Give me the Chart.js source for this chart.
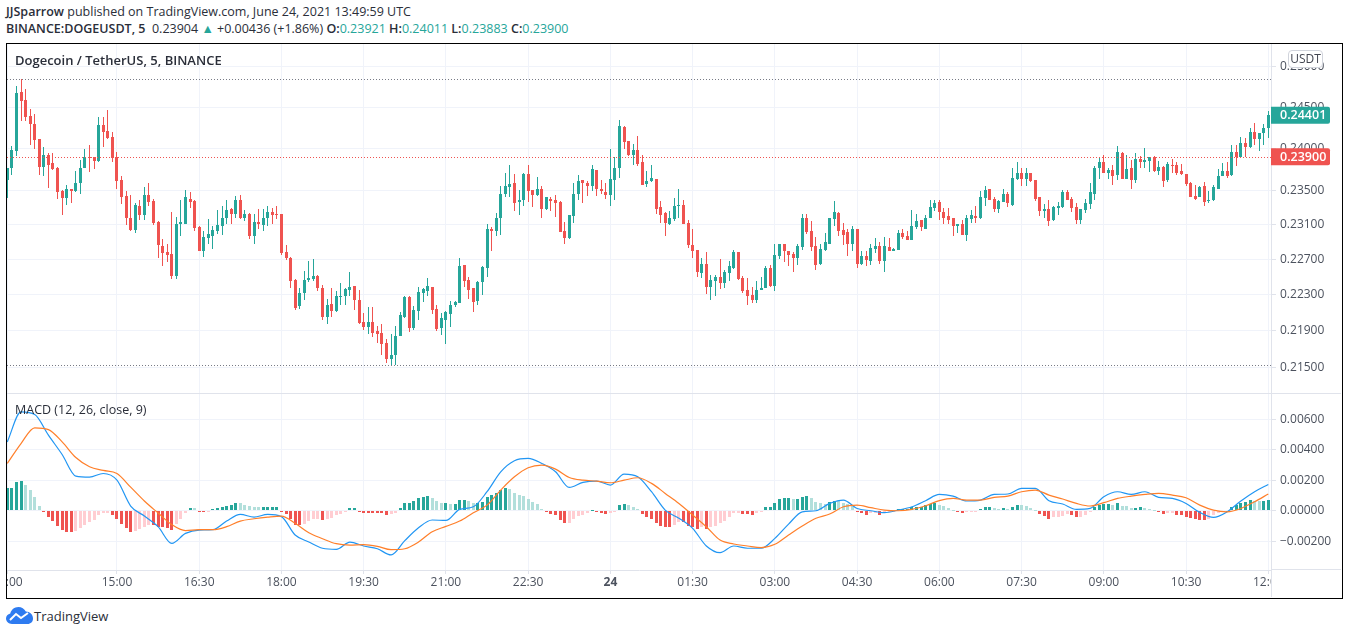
<!DOCTYPE html>
<html>
<head>
<meta charset="utf-8">
<title>DOGEUSDT</title>
<script src="https://cdn.jsdelivr.net/npm/chart.js@4/dist/chart.umd.min.js"></script>
<style>
  html, body { margin: 0; padding: 0; background: #fff; overflow: hidden; }
  body { width: 1348px; height: 634px; position: relative; font-family: "Open Sans", sans-serif; color: #2a2e39; }
  canvas { position: absolute; left: 7px; }
  #priceChart { top: 44px; }
  #macdChart { top: 394px; }
  .txt { position: absolute; white-space: nowrap; line-height: 16px; font-size: 12.5px; }
  .txt b { font-weight: 600; color: #2a2e39; }
  .up { color: #26a69a; }
  #frame { position: absolute; left: 6px; top: 43px; width: 1335px; height: 554px; border: 1px solid #000; pointer-events: none; }
  #paneLine { position: absolute; left: 7px; top: 393px; width: 1334px; height: 1px; background: #e0e3eb; }
  #axisCorner { position: absolute; left: 1271px; top: 569px; width: 70px; height: 28px; background: #fff; border-left: 1px solid #e0e3eb; border-top: 1px solid #e0e3eb; box-sizing: border-box; }
  #unit { position: absolute; left: 1288px; top: 50px; width: 35px; height: 18px; box-sizing: border-box; background: #fff; border: 1px solid #d1d4dc; border-radius: 4px; font-size: 12px; line-height: 16px; text-align: center; color: #434651; }
</style>
</head>
<body>
<div class="txt" style="left:6px;top:4px"><b>JJSparrow</b> published on TradingView.com, June 24, 2021 13:49:59 UTC</div>
<div class="txt" style="left:6px;top:21px"><b>BINANCE:DOGEUSDT, 5</b>&nbsp; 0.23904 <span class="up">▲</span> +0.00436 (+1.86%) <b>O:</b><span class="up">0.23921</span> <b>H:</b><span class="up">0.24011</span> <b>L:</b><span class="up">0.23883</span> <b>C:</b><span class="up">0.23900</span></div>
<canvas id="priceChart" width="1334" height="350"></canvas>
<canvas id="macdChart" width="1334" height="204"></canvas>
<div id="paneLine"></div>
<div id="axisCorner"></div>
<div id="unit">USDT</div>
<div class="txt" style="left:15px;top:52px;font-size:13px;font-weight:600">Dogecoin / TetherUS, 5, BINANCE</div>
<div class="txt" style="left:15px;top:402px">MACD (12, 26, close, 9)</div>
<div id="frame"></div>
<svg style="position:absolute;left:6px;top:607px" width="27" height="18" viewBox="0 0 27 18">
  <path d="M6 17C2.5 17 0 14.6 0 11.6 0 9 1.8 6.9 4.3 6.4 5.2 2.8 8.4 0 12.4 0c3.200 0 6 1.800 7.400 4.500C23.800 4.600 27 7.600 27 11.500 27 14.700 24.800 17 21.500 17Z" fill="#2e7bf0"/>
  <path d="M4 13 L10 7 L15 11 L22 6" fill="none" stroke="#fff" stroke-width="2"/>
</svg>
<div class="txt" style="left:34px;top:608px;font-size:13px">TradingView</div>

<script>
// 5 minute candles, bar 0 = 13:00
const openPrices = [
  .2362,.2376,.2397,.2469,.2459,.2439,.2430,.2411,.2378,.2392,.2382,.2376,.2349,.2341,.2351,.2349,.2358,.2376,.2389,.2389,
  .2385,.2428,.2421,.2414,.2389,.2362,.2343,.2318,.2304,.2332,.2321,.2345,.2337,.2313,.2285,.2278,.2276,.2251,.2310,.2310,
  .2340,.2337,.2307,.2280,.2294,.2297,.2303,.2308,.2317,.2328,.2322,.2339,.2318,.2322,.2297,.2313,.2309,.2317,.2325,.2322,
  .2322,.2278,.2272,.2247,.2217,.2232,.2246,.2248,.2251,.2238,.2205,.2220,.2212,.2227,.2228,.2235,.2240,.2224,.2200,.2194,
  .2200,.2190,.2188,.2177,.2159,.2163,.2184,.2205,.2227,.2193,.2212,.2232,.2234,.2239,.2214,.2193,.2202,.2209,.2218,.2221,
  .2263,.2246,.2237,.2223,.2244,.2260,.2305,.2303,.2317,.2346,.2354,.2358,.2336,.2338,.2369,.2350,.2345,.2351,.2328,.2340,
  .2338,.2336,.2303,.2294,.2320,.2346,.2362,.2359,.2355,.2374,.2352,.2348,.2345,.2362,.2377,.2426,.2409,.2392,.2398,.2384,
  .2357,.2361,.2363,.2330,.2323,.2310,.2316,.2331,.2333,.2312,.2286,.2281,.2254,.2265,.2239,.2245,.2250,.2243,.2254,.2260,
  .2278,.2249,.2235,.2230,.2224,.2235,.2237,.2260,.2240,.2274,.2287,.2280,.2276,.2272,.2284,.2317,.2302,.2285,.2265,.2281,
  .2288,.2316,.2323,.2304,.2301,.2287,.2305,.2265,.2274,.2268,.2282,.2285,.2268,.2284,.2280,.2281,.2300,.2297,.2292,.2307,
  .2315,.2305,.2317,.2329,.2336,.2325,.2320,.2317,.2308,.2310,.2298,.2316,.2320,.2317,.2341,.2351,.2340,.2328,.2336,.2346,
  .2333,.2363,.2371,.2363,.2370,.2362,.2342,.2326,.2328,.2315,.2329,.2330,.2348,.2340,.2330,.2315,.2327,.2334,.2346,.2376,
  .2383,.2370,.2374,.2368,.2394,.2363,.2376,.2362,.2387,.2384,.2385,.2389,.2373,.2378,.2362,.2380,.2380,.2373,.2369,.2358,
  .2343,.2342,.2355,.2337,.2338,.2352,.2367,.2373,.2368,.2395,.2389,.2407,.2402,.2420,.2411,.2418,.2424
]
const highPrices = [
  .2377,.2403,.2476,.2485,.2472,.2448,.2442,.2411,.2402,.2394,.2394,.2378,.2350,.2356,.2352,.2373,.2386,.2399,.2404,.2389,
  .2438,.2438,.2447,.2420,.2396,.2367,.2349,.2344,.2335,.2339,.2354,.2358,.2340,.2314,.2293,.2288,.2325,.2319,.2338,.2350,
  .2348,.2339,.2308,.2303,.2316,.2308,.2327,.2331,.2338,.2329,.2343,.2345,.2327,.2323,.2322,.2328,.2328,.2331,.2329,.2331,
  .2322,.2286,.2273,.2248,.2237,.2257,.2268,.2270,.2252,.2241,.2225,.2237,.2234,.2243,.2237,.2255,.2240,.2235,.2210,.2216,
  .2216,.2195,.2197,.2181,.2186,.2195,.2211,.2229,.2228,.2217,.2239,.2238,.2249,.2239,.2219,.2210,.2212,.2223,.2223,.2272,
  .2264,.2250,.2237,.2245,.2262,.2310,.2307,.2323,.2355,.2370,.2380,.2369,.2350,.2370,.2380,.2350,.2366,.2355,.2342,.2342,
  .2345,.2337,.2313,.2321,.2358,.2368,.2362,.2361,.2380,.2374,.2362,.2358,.2399,.2389,.2434,.2427,.2409,.2405,.2415,.2392,
  .2373,.2380,.2363,.2337,.2325,.2326,.2341,.2352,.2338,.2315,.2305,.2281,.2272,.2278,.2252,.2252,.2270,.2258,.2268,.2281,
  .2278,.2251,.2249,.2239,.2245,.2250,.2262,.2263,.2287,.2287,.2288,.2280,.2278,.2288,.2322,.2322,.2314,.2295,.2287,.2300,
  .2318,.2337,.2325,.2312,.2305,.2308,.2305,.2280,.2280,.2287,.2294,.2290,.2295,.2294,.2283,.2304,.2305,.2302,.2327,.2322,
  .2315,.2321,.2338,.2338,.2338,.2329,.2329,.2318,.2310,.2315,.2321,.2327,.2331,.2349,.2355,.2352,.2342,.2338,.2352,.2348,
  .2376,.2384,.2376,.2377,.2371,.2362,.2342,.2334,.2339,.2331,.2336,.2350,.2350,.2342,.2335,.2328,.2340,.2358,.2379,.2389,
  .2392,.2377,.2380,.2403,.2395,.2392,.2386,.2394,.2391,.2400,.2389,.2391,.2385,.2379,.2384,.2387,.2384,.2381,.2369,.2360,
  .2356,.2355,.2360,.2349,.2356,.2375,.2382,.2384,.2404,.2404,.2414,.2412,.2425,.2431,.2418,.2429,.2445
]
const lowPrices = [
  .2341,.2368,.2391,.2433,.2433,.2404,.2399,.2368,.2367,.2353,.2374,.2340,.2321,.2333,.2335,.2348,.2346,.2376,.2372,.2375,
  .2383,.2402,.2411,.2383,.2352,.2334,.2309,.2303,.2300,.2315,.2315,.2331,.2309,.2271,.2262,.2267,.2248,.2248,.2297,.2310,
  .2329,.2302,.2279,.2273,.2287,.2282,.2299,.2298,.2310,.2311,.2317,.2316,.2314,.2293,.2287,.2305,.2302,.2308,.2311,.2316,
  .2275,.2269,.2238,.2213,.2214,.2224,.2244,.2245,.2234,.2202,.2198,.2205,.2211,.2219,.2218,.2228,.2213,.2198,.2191,.2187,
  .2183,.2177,.2163,.2155,.2153,.2153,.2184,.2204,.2189,.2191,.2202,.2222,.2228,.2208,.2190,.2185,.2176,.2194,.2216,.2221,
  .2239,.2225,.2211,.2218,.2230,.2250,.2280,.2297,.2298,.2342,.2342,.2326,.2321,.2332,.2336,.2330,.2343,.2317,.2327,.2326,
  .2319,.2301,.2288,.2293,.2312,.2338,.2335,.2343,.2349,.2343,.2346,.2340,.2332,.2339,.2364,.2399,.2391,.2380,.2379,.2356,
  .2354,.2360,.2322,.2312,.2297,.2309,.2314,.2317,.2310,.2283,.2272,.2250,.2249,.2231,.2224,.2229,.2236,.2238,.2245,.2259,
  .2246,.2232,.2218,.2221,.2221,.2235,.2237,.2239,.2234,.2270,.2267,.2262,.2256,.2264,.2281,.2299,.2279,.2258,.2264,.2279,
  .2288,.2308,.2297,.2286,.2274,.2280,.2260,.2263,.2262,.2263,.2277,.2265,.2255,.2279,.2279,.2281,.2293,.2292,.2292,.2305,
  .2302,.2305,.2317,.2326,.2315,.2310,.2310,.2297,.2300,.2298,.2291,.2312,.2312,.2316,.2331,.2338,.2325,.2323,.2336,.2330,
  .2332,.2362,.2355,.2355,.2360,.2337,.2320,.2318,.2308,.2314,.2321,.2329,.2338,.2325,.2310,.2310,.2323,.2328,.2339,.2363,
  .2370,.2363,.2356,.2362,.2363,.2363,.2351,.2358,.2377,.2377,.2372,.2372,.2368,.2354,.2360,.2370,.2368,.2368,.2355,.2342,
  .2338,.2342,.2332,.2335,.2337,.2351,.2367,.2364,.2367,.2379,.2389,.2389,.2400,.2404,.2397,.2404,.2412
]
const closePrices = [
  .2377,.2398,.2467,.2458,.2438,.2430,.2410,.2378,.2392,.2380,.2375,.2348,.2341,.2351,.2349,.2358,.2377,.2389,.2388,.2385,
  .2428,.2420,.2413,.2388,.2361,.2342,.2318,.2304,.2333,.2321,.2345,.2336,.2312,.2286,.2277,.2275,.2251,.2310,.2313,.2342,
  .2336,.2306,.2280,.2296,.2299,.2304,.2309,.2318,.2327,.2322,.2339,.2318,.2322,.2297,.2313,.2310,.2318,.2325,.2321,.2321,
  .2277,.2272,.2245,.2215,.2232,.2247,.2249,.2251,.2237,.2205,.2219,.2212,.2228,.2229,.2236,.2239,.2224,.2199,.2194,.2200,
  .2188,.2187,.2175,.2159,.2164,.2184,.2207,.2227,.2193,.2213,.2233,.2236,.2240,.2213,.2192,.2204,.2211,.2219,.2222,.2262,
  .2245,.2235,.2222,.2244,.2261,.2305,.2303,.2318,.2346,.2355,.2357,.2335,.2339,.2369,.2349,.2345,.2351,.2328,.2342,.2337,
  .2335,.2301,.2294,.2321,.2346,.2361,.2358,.2355,.2375,.2352,.2349,.2345,.2363,.2377,.2427,.2408,.2392,.2398,.2381,.2356,
  .2361,.2364,.2328,.2321,.2312,.2317,.2331,.2333,.2310,.2286,.2280,.2255,.2265,.2239,.2246,.2250,.2243,.2255,.2262,.2278,
  .2248,.2234,.2229,.2224,.2235,.2238,.2260,.2240,.2275,.2287,.2279,.2275,.2272,.2285,.2318,.2301,.2284,.2264,.2282,.2290,
  .2317,.2325,.2303,.2298,.2287,.2305,.2265,.2274,.2269,.2283,.2285,.2268,.2285,.2279,.2282,.2300,.2295,.2292,.2308,.2314,
  .2307,.2318,.2330,.2335,.2325,.2318,.2315,.2308,.2310,.2298,.2317,.2321,.2317,.2342,.2350,.2339,.2328,.2337,.2346,.2335,
  .2364,.2371,.2363,.2370,.2361,.2340,.2326,.2328,.2314,.2330,.2331,.2348,.2339,.2329,.2315,.2328,.2335,.2348,.2376,.2383,
  .2371,.2374,.2367,.2395,.2363,.2375,.2362,.2387,.2384,.2386,.2389,.2373,.2378,.2361,.2381,.2379,.2370,.2369,.2357,.2342,
  .2340,.2354,.2336,.2339,.2354,.2367,.2373,.2367,.2395,.2389,.2407,.2402,.2420,.2411,.2418,.2425,.24401
]

// one value per bar
const macdHist = [
  .00147,.00147,.00186,.00195,.00169,.00136,.00088,.00031,-.00009,-.00039,-.0007,-.00101,-.00127,-.0014,-.0014,-.00131,-.00116,-.00092,-.00074,-.00061,
  -.00031,-.00018,-.00015,-.00028,-.00057,-.00088,-.00112,-.0014,-.00131,-.0012,-.0011,-.00092,-.00096,-.00105,-.0011,-.00114,-.00127,-.00088,-.00057,-.00018,
  .0002,.00018,-.00009,-.00009,-.00004,.00009,.00018,.00022,.00031,.00039,.00053,.00048,.00039,.00028,.00026,.00022,.00022,.00024,.00026,.00026,
  -.00009,-.00022,-.00053,-.00092,-.00092,-.00088,-.00066,-.00057,-.00053,-.00061,-.00053,-.0005,-.00031,-.00022,-.00009,.00018,.00018,-.00004,-.00013,-.00013,
  -.00013,-.00013,-.00018,-.00031,-.00022,-.00013,.00018,.00053,.00053,.00066,.00083,.00088,.00096,.00083,.00061,.00048,.00048,.00044,.00044,.0007,
  .0007,.00064,.0005,.0005,.00059,.0009,.00103,.00116,.00134,.00147,.00142,.00116,.00103,.00094,.00077,.00055,.00044,.00011,-.00009,-.00022,
  -.00031,-.00061,-.00081,-.00079,-.00055,-.00037,-.00026,-.00013,.00004,-.00009,-.00018,-.0002,-.00015,-.00009,.00039,.00044,.00039,.00026,.00009,-.00022,
  -.00039,-.00057,-.00083,-.00101,-.00105,-.00105,-.00092,-.00074,-.00077,-.00099,-.0011,-.00118,-.0011,-.0012,-.00105,-.00099,-.00083,-.00066,-.00044,-.00018,
  -.00015,-.0002,-.00022,-.00026,-.00013,-.00009,.00022,.00022,.00048,.00074,.00083,.00083,.00079,.00079,.00092,.00096,.00083,.00057,.00048,.00044,
  .00057,.00066,.00061,.00048,.00044,.00031,-.00004,-.00013,-.00031,-.00018,-.00015,-.00028,-.00018,-.00009,-.00004,.00009,.00009,.00013,.00022,.00026,
  .00026,.00035,.00044,.00053,.00039,.00033,.00018,.00007,-.00004,-.00015,-.00011,-.00009,-.00007,.00013,.00026,.00026,.00018,.00013,.00018,.00009,
  .00026,.00037,.00035,.00033,.00018,.00004,-.00022,-.00035,-.00053,-.00044,-.00042,-.00035,-.00022,-.00031,-.00044,-.00039,-.00026,-.00009,.00022,.00039,
  .00044,.00044,.00035,.00048,.00031,.00028,.00018,.0002,.00022,.00018,.00013,.00004,-.00004,-.00022,-.00015,-.00013,-.00026,-.00026,-.00039,-.00048,
  -.00057,-.00059,-.00061,-.00057,-.00031,-.00013,-.00004,0,.00026,.00039,.00053,.00057,.00068,.00066,.00064,.00064,.0007
]

// read every third bar
const lineStep = 3
const macdLine = [
  .00453,.0065,.00633,.00497,.0037,.00228,.00221,.00245,.00201,.00031,-.00035,-.00105,-.00215,-.00149,-.00127,-.00125,-.00068,-.00024,-.00042,-.00024,
  -.00039,-.0016,-.00206,-.00247,-.00254,-.00206,-.00232,-.0025,-.00291,-.00197,-.00112,-.00061,-.00064,.00009,.00026,.00125,.00256,.00329,.00344,.00311,
  .00256,.00153,.00186,.00195,.00169,.00241,.00223,.00125,.00004,-.0005,-.00116,-.00232,-.00276,-.00232,-.00247,-.00247,-.00182,-.00088,-.00007,0,
  .00048,.0007,.00015,0,-.00013,.00004,.00026,.00066,.00107,.00096,.00064,.0007,.00107,.0011,.00147,.00147,.00066,.00044,.00009,.00015,
  .00092,.00125,.00107,.00125,.00088,.00081,.00048,-.00011,-.00044,-.00007,.00064,.00125,.00173
]
const signalLine = [
  .00311,.00442,.00545,.00534,.00453,.0035,.00289,.00265,.00245,.00155,.00064,-.00015,-.00092,-.00131,-.00125,-.00125,-.00105,-.00068,-.00053,-.00042,
  -.00035,-.00083,-.00145,-.00184,-.00217,-.00226,-.00223,-.00234,-.00256,-.0025,-.00206,-.00138,-.00103,-.00068,-.00013,.00037,.00136,.00223,.00283,.003,
  .00274,.00219,.00201,.00195,.00184,.00201,.00217,.0018,.00114,.00048,-.00028,-.00105,-.00193,-.00219,-.00232,-.00243,-.00221,-.0016,-.00101,-.0005,
  -.00022,.00026,.00037,.0002,.00004,0,.00009,.00033,.00066,.00081,.0007,.0007,.00088,.00096,.00125,.00136,.00103,.00077,.00048,.00031,
  .00053,.00081,.00096,.00107,.00114,.00103,.00085,.00037,.00004,-.00007,.00015,.00059,.0011
]

const priceTicks = [.215, .219, .223, .227, .231, .235, .24, .245, .25]
const macdTicks = [-.002, 0, .002, .004, .006]
const timeTicks = [0, 24, 42, 60, 78, 96, 114, 132, 150, 168, 186, 204, 222, 240, 258, 276]
const timeLabels = ['13:00', '15:00', '16:30', '18:00', '19:30', '21:00', '22:30', '24', '01:30', '03:00', '04:30', '06:00', '07:30', '09:00', '10:30', '12:00']

const lastPrice = .24401
const prevClosePrice = .239
const highLevel = .2485
const lowLevel = .2153

const UP = '#26a69a'
const DOWN = '#ef5350'
const GRID = '#f0f3fa'
const AXIS = '#e0e3eb'
const LABEL = '#4c525e'
const FONT = '"Open Sans", sans-serif'

const candleColors = closePrices.map((c, i) => c >= openPrices[i] ? UP : DOWN)

function histColor(v, i) {
  const prev = i ? macdHist[i - 1] : v
  if (v >= 0) return v >= prev ? UP : '#b2dfdb'
  return v <= prev ? DOWN : '#ffcdd2'
}

// keep candles on whole pixels, otherwise 1px wicks go blurry
const snapBars = {
  id: 'snapBars',
  beforeDatasetsDraw(chart) {
    chart.getSortedVisibleDatasetMetas().forEach(meta => {
      if (meta.type !== 'bar') return
      meta.data.forEach(el => {
        el.x = Math.round(el.x - el.width / 2) + el.width / 2
        const y = Math.round(el.y)
        const base = Math.round(el.base)
        el.y = y
        el.base = base === y ? y + 1 : base
      })
    })
  }
}

function priceBadge(ctx, y, text, color) {
  const x = 1264
  ctx.fillStyle = color
  ctx.beginPath()
  ctx.roundRect(x, y - 8.5, 59, 17, [0, 2, 2, 0])
  ctx.fill()
  ctx.fillStyle = '#fff'
  ctx.font = '600 12.5px ' + FONT
  ctx.textAlign = 'left'
  ctx.textBaseline = 'middle'
  ctx.fillText(text, x + 9, y + .5)
}

const priceLevels = {
  id: 'priceLevels',
  afterDatasetsDraw(chart) {
    const { ctx, chartArea, scales } = chart
    const hLine = (value, color) => {
      const y = Math.round(scales.y.getPixelForValue(value)) + .5
      ctx.beginPath()
      ctx.moveTo(chartArea.left, y)
      ctx.lineTo(chartArea.right, y)
      ctx.strokeStyle = color
      ctx.stroke()
    }
    ctx.save()
    ctx.lineWidth = 1
    ctx.setLineDash([1, 2])
    hLine(highLevel, '#787b86')
    hLine(lowLevel, '#787b86')
    hLine(prevClosePrice, DOWN)
    ctx.restore()
  },
  afterDraw(chart) {
    const { ctx, scales } = chart
    ctx.save()
    priceBadge(ctx, scales.y.getPixelForValue(lastPrice), lastPrice.toFixed(5), UP)
    priceBadge(ctx, scales.y.getPixelForValue(prevClosePrice), prevClosePrice.toFixed(5), DOWN)
    ctx.restore()
  }
}

function timeAxis(showLabels, height) {
  return {
    type: 'linear',
    min: -.066,
    max: 276.59,
    bounds: 'data',
    offset: false,
    afterBuildTicks: axis => { axis.ticks = timeTicks.map(value => ({ value })) },
    afterFit: axis => {
      axis.height = height
      axis.paddingLeft = 0
      axis.paddingRight = 0
    },
    grid: { color: GRID, offset: false, drawTicks: showLabels, tickLength: 4, tickColor: AXIS },
    border: { display: showLabels, color: AXIS },
    ticks: {
      display: showLabels,
      autoSkip: false,
      maxRotation: 0,
      includeBounds: false,
      padding: 1,
      color: LABEL,
      font: ctx => ({ family: FONT, size: 12, weight: ctx.tick && ctx.tick.value === 132 ? '700' : '400' }),
      callback: v => timeLabels[timeTicks.indexOf(v)]
    }
  }
}

function valueGrid(ticks) {
  return {
    position: 'right',
    bounds: 'data',
    afterBuildTicks: axis => { axis.ticks = ticks.map(value => ({ value })) },
    afterFit: axis => {
      axis.width = 70
      axis.paddingTop = 0
      axis.paddingBottom = 0
    },
    grid: { color: GRID, tickLength: 5, tickColor: AXIS },
    border: { color: AXIS },
    ticks: {
      autoSkip: false,
      padding: 4,
      color: LABEL,
      font: { family: FONT, size: 12 },
      callback: v => (v < 0 ? '\u2212' : '') + Math.abs(v).toFixed(5)
    }
  }
}

const baseOptions = {
  responsive: false,
  animation: false,
  events: [],
  layout: { padding: 0 },
  plugins: { legend: { display: false }, tooltip: { enabled: false } }
}

new Chart(document.getElementById('priceChart'), {
  type: 'bar',
  data: {
    datasets: [
      {
        data: lowPrices.map((low, i) => ({ x: i, y: [low, highPrices[i]] })),
        backgroundColor: candleColors,
        grouped: false,
        barThickness: 1,
        maxBarThickness: 1,
        inflateAmount: 0,
        borderWidth: 0
      },
      {
        data: openPrices.map((open, i) => ({ x: i, y: [open, closePrices[i]] })),
        backgroundColor: candleColors,
        grouped: false,
        barThickness: 3,
        maxBarThickness: 3,
        inflateAmount: 0,
        borderWidth: 0
      }
    ]
  },
  options: {
    ...baseOptions,
    scales: {
      x: timeAxis(false, 0),
      y: { ...valueGrid(priceTicks), type: 'logarithmic', min: .21216, max: .2529 }
    }
  },
  plugins: [snapBars, priceLevels]
})

new Chart(document.getElementById('macdChart'), {
  type: 'bar',
  data: {
    datasets: [
      {
        type: 'line',
        data: signalLine.map((y, i) => ({ x: i * lineStep, y })),
        borderColor: '#ff7f2a',
        borderWidth: 1.2,
        pointRadius: 0,
        cubicInterpolationMode: 'monotone',
        order: 1
      },
      {
        type: 'line',
        data: macdLine.map((y, i) => ({ x: i * lineStep, y })),
        borderColor: '#2196f3',
        borderWidth: 1.2,
        pointRadius: 0,
        cubicInterpolationMode: 'monotone',
        order: 2
      },
      {
        data: macdHist.map((y, x) => ({ x, y })),
        backgroundColor: macdHist.map(histColor),
        grouped: false,
        barThickness: 3,
        maxBarThickness: 3,
        inflateAmount: 0,
        borderWidth: 0,
        order: 3
      }
    ]
  },
  options: {
    ...baseOptions,
    scales: {
      x: timeAxis(true, 28),
      y: { ...valueGrid(macdTicks), type: 'linear', min: -.0039, max: .00768 }
    }
  },
  plugins: [snapBars]
})
</script>
</body>
</html>
